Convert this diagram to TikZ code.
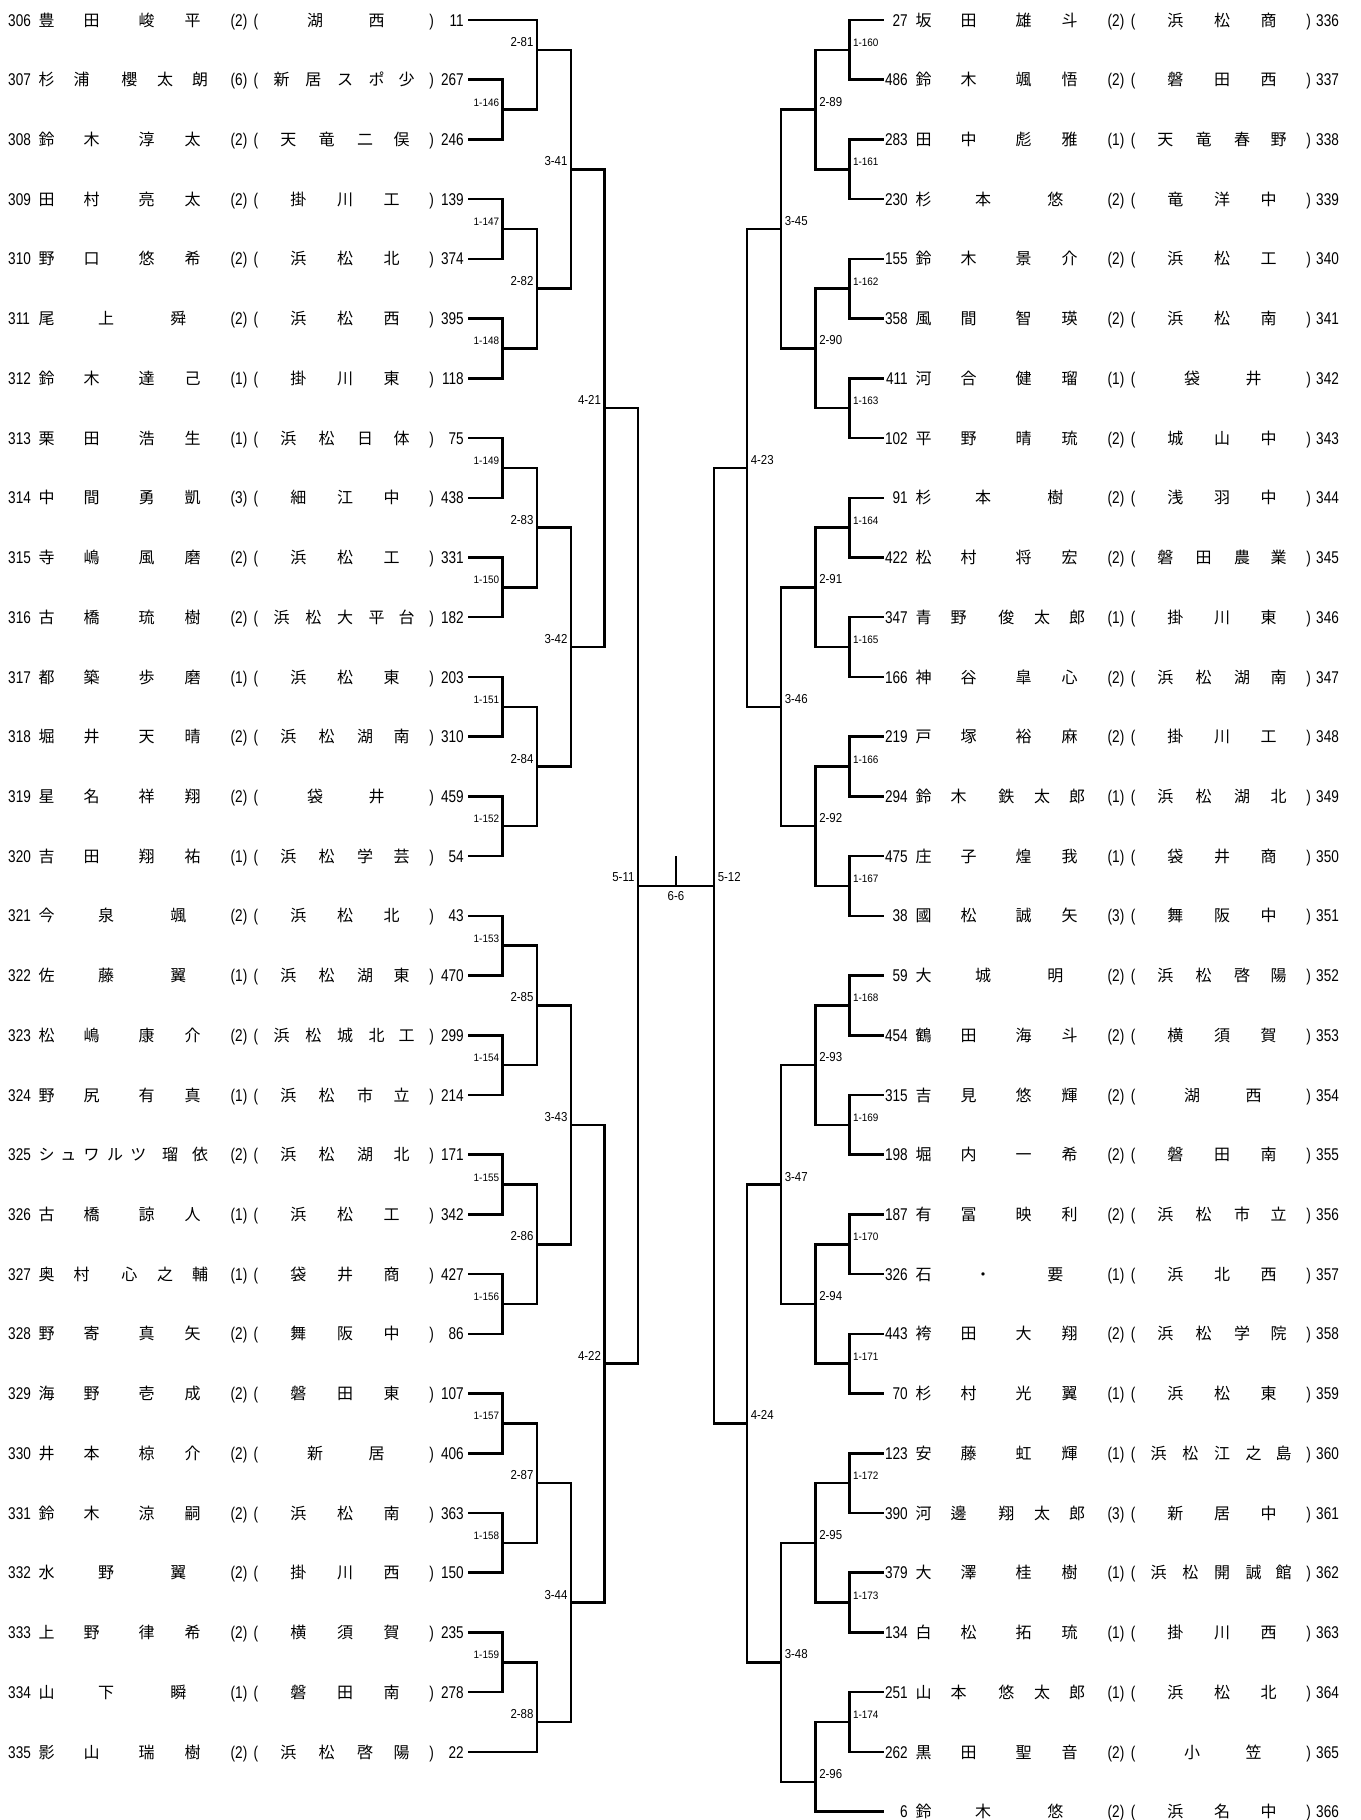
\documentclass[tikz,border=0pt]{standalone}
\usepackage{fontspec}
\usepackage{graphicx}
\setmainfont{Liberation Sans}
\newfontfamily\jpfont{Noto Sans CJK JP}
\newcount\tid
\newcommand\nd[1]{\scalebox{0.8}[1]{#1}}
\newcommand\nl[1]{\scalebox{0.88}[1]{#1}}
\newcommand\ns[1]{\scalebox{0.92}[1]{#1}}
\def\xo{0}\def\yb{0}
\newcommand\CJ[2]{\global\advance\tid by 1 \node[jp] (t\the\tid) at ({#1+\xo},\yb) {#2};}
\newcommand\NW[2]{\global\advance\tid by 1 \node[num,anchor=base west] (t\the\tid) at ({#1+\xo},\yb) {\nd{#2}};}
\newcommand\NE[2]{\global\advance\tid by 1 \node[num,anchor=base east] (t\the\tid) at ({#1+\xo},\yb) {\nd{#2}};}
\newcommand\NC[2]{\global\advance\tid by 1 \node[num,anchor=base] (t\the\tid) at ({#1+\xo},\yb) {\nd{#2}};}
\newcommand\PF[4]{\CJ{46.7}{#1}\CJ{91.7}{#2}\CJ{146.7}{#3}\CJ{192.7}{#4}}
\newcommand\PV[5]{\CJ{46.7}{#1}\CJ{81.7}{#2}\CJ{129.3}{#3}\CJ{165}{#4}\CJ{200}{#5}}
\newcommand\PT[3]{\CJ{46.7}{#1}\CJ{106}{#2}\CJ{178.3}{#3}}
\newcommand\SB[2]{\CJ{315}{#1}\CJ{376.7}{#2}}
\newcommand\SC[3]{\CJ{298.3}{#1}\CJ{345}{#2}\CJ{391.7}{#3}}
\newcommand\SD[4]{\CJ{288.3}{#1}\CJ{326.7}{#2}\CJ{365}{#3}\CJ{401.7}{#4}}
\newcommand\SE[5]{\CJ{281.7}{#1}\CJ{313.3}{#2}\CJ{345}{#3}\CJ{376.7}{#4}\CJ{406.7}{#5}}
\newcommand\GR[1]{\NC{239}{(#1)}\NC{256}{(}\NC{431.7}{)}}
\newcommand\LR[6]{\pgfmathsetmacro\yb{20+59.72*#1+6.1}\def\xo{0}\NW{8}{#2}#3\GR{#4}#5\NE{464}{#6}}
\newcommand\RR[6]{\pgfmathsetmacro\yb{20+59.72*#1+6.1}\def\xo{877}\NE{31}{#2}#3\GR{#4}#5\NW{439}{#6}}
\begin{document}
\begin{tikzpicture}[x=1pt,y=-1pt,
  jp/.style={font=\jpfont\fontsize{16}{16}\selectfont, inner sep=0pt, anchor=base},
  num/.style={font=\fontsize{17}{17}\selectfont, inner sep=0pt},
  lbl/.style={font=\fontsize{13}{13}\selectfont, inner sep=0pt},
  lbs/.style={font=\fontsize{10.8}{10.8}\selectfont, inner sep=0pt},
  br/.style={line width=2.5pt, line join=miter, line cap=butt}]
\useasboundingbox (0,0) rectangle (1360,1820);
% ---------- left rows
\LR{0}{306}{\PF{豊}{田}{峻}{平}}{2}{\SB{湖}{西}}{11}
\LR{1}{307}{\PV{杉}{浦}{櫻}{太}{朗}}{6}{\SE{新}{居}{ス}{ポ}{少}}{267}
\LR{2}{308}{\PF{鈴}{木}{淳}{太}}{2}{\SD{天}{竜}{二}{俣}}{246}
\LR{3}{309}{\PF{田}{村}{亮}{太}}{2}{\SC{掛}{川}{工}}{139}
\LR{4}{310}{\PF{野}{口}{悠}{希}}{2}{\SC{浜}{松}{北}}{374}
\LR{5}{311}{\PT{尾}{上}{舜}}{2}{\SC{浜}{松}{西}}{395}
\LR{6}{312}{\PF{鈴}{木}{達}{己}}{1}{\SC{掛}{川}{東}}{118}
\LR{7}{313}{\PF{栗}{田}{浩}{生}}{1}{\SD{浜}{松}{日}{体}}{75}
\LR{8}{314}{\PF{中}{間}{勇}{凱}}{3}{\SC{細}{江}{中}}{438}
\LR{9}{315}{\PF{寺}{嶋}{風}{磨}}{2}{\SC{浜}{松}{工}}{331}
\LR{10}{316}{\PF{古}{橋}{琉}{樹}}{2}{\SE{浜}{松}{大}{平}{台}}{182}
\LR{11}{317}{\PF{都}{築}{歩}{磨}}{1}{\SC{浜}{松}{東}}{203}
\LR{12}{318}{\PF{堀}{井}{天}{晴}}{2}{\SD{浜}{松}{湖}{南}}{310}
\LR{13}{319}{\PF{星}{名}{祥}{翔}}{2}{\SB{袋}{井}}{459}
\LR{14}{320}{\PF{吉}{田}{翔}{祐}}{1}{\SD{浜}{松}{学}{芸}}{54}
\LR{15}{321}{\PT{今}{泉}{颯}}{2}{\SC{浜}{松}{北}}{43}
\LR{16}{322}{\PT{佐}{藤}{翼}}{1}{\SD{浜}{松}{湖}{東}}{470}
\LR{17}{323}{\PF{松}{嶋}{康}{介}}{2}{\SE{浜}{松}{城}{北}{工}}{299}
\LR{18}{324}{\PF{野}{尻}{有}{真}}{1}{\SD{浜}{松}{市}{立}}{214}
\LR{19}{325}{\CJ{46.7}{シ}\CJ{68.3}{ュ}\CJ{91.7}{ワ}\CJ{115}{ル}\CJ{138.3}{ツ}\CJ{170}{瑠}\CJ{200}{依}}{2}{\SD{浜}{松}{湖}{北}}{171}
\LR{20}{326}{\PF{古}{橋}{諒}{人}}{1}{\SC{浜}{松}{工}}{342}
\LR{21}{327}{\PV{奥}{村}{心}{之}{輔}}{1}{\SC{袋}{井}{商}}{427}
\LR{22}{328}{\PF{野}{寄}{真}{矢}}{2}{\SC{舞}{阪}{中}}{86}
\LR{23}{329}{\PF{海}{野}{壱}{成}}{2}{\SC{磐}{田}{東}}{107}
\LR{24}{330}{\PF{井}{本}{椋}{介}}{2}{\SB{新}{居}}{406}
\LR{25}{331}{\PF{鈴}{木}{涼}{嗣}}{2}{\SC{浜}{松}{南}}{363}
\LR{26}{332}{\PT{水}{野}{翼}}{2}{\SC{掛}{川}{西}}{150}
\LR{27}{333}{\PF{上}{野}{律}{希}}{2}{\SC{横}{須}{賀}}{235}
\LR{28}{334}{\PT{山}{下}{瞬}}{1}{\SC{磐}{田}{南}}{278}
\LR{29}{335}{\PF{影}{山}{瑞}{樹}}{2}{\SD{浜}{松}{啓}{陽}}{22}
% ---------- right rows
\RR{0}{27}{\PF{坂}{田}{雄}{斗}}{2}{\SC{浜}{松}{商}}{336}
\RR{1}{486}{\PF{鈴}{木}{颯}{悟}}{2}{\SC{磐}{田}{西}}{337}
\RR{2}{283}{\PF{田}{中}{彪}{雅}}{1}{\SD{天}{竜}{春}{野}}{338}
\RR{3}{230}{\PT{杉}{本}{悠}}{2}{\SC{竜}{洋}{中}}{339}
\RR{4}{155}{\PF{鈴}{木}{景}{介}}{2}{\SC{浜}{松}{工}}{340}
\RR{5}{358}{\PF{風}{間}{智}{瑛}}{2}{\SC{浜}{松}{南}}{341}
\RR{6}{411}{\PF{河}{合}{健}{瑠}}{1}{\SB{袋}{井}}{342}
\RR{7}{102}{\PF{平}{野}{晴}{琉}}{2}{\SC{城}{山}{中}}{343}
\RR{8}{91}{\PT{杉}{本}{樹}}{2}{\SC{浅}{羽}{中}}{344}
\RR{9}{422}{\PF{松}{村}{将}{宏}}{2}{\SD{磐}{田}{農}{業}}{345}
\RR{10}{347}{\PV{青}{野}{俊}{太}{郎}}{1}{\SC{掛}{川}{東}}{346}
\RR{11}{166}{\PF{神}{谷}{皐}{心}}{2}{\SD{浜}{松}{湖}{南}}{347}
\RR{12}{219}{\PF{戸}{塚}{裕}{麻}}{2}{\SC{掛}{川}{工}}{348}
\RR{13}{294}{\PV{鈴}{木}{鉄}{太}{郎}}{1}{\SD{浜}{松}{湖}{北}}{349}
\RR{14}{475}{\PF{庄}{子}{煌}{我}}{1}{\SC{袋}{井}{商}}{350}
\RR{15}{38}{\PF{國}{松}{誠}{矢}}{3}{\SC{舞}{阪}{中}}{351}
\RR{16}{59}{\PT{大}{城}{明}}{2}{\SD{浜}{松}{啓}{陽}}{352}
\RR{17}{454}{\PF{鶴}{田}{海}{斗}}{2}{\SC{横}{須}{賀}}{353}
\RR{18}{315}{\PF{吉}{見}{悠}{輝}}{2}{\SB{湖}{西}}{354}
\RR{19}{198}{\PF{堀}{内}{一}{希}}{2}{\SC{磐}{田}{南}}{355}
\RR{20}{187}{\PF{有}{冨}{映}{利}}{2}{\SD{浜}{松}{市}{立}}{356}
\RR{21}{326}{\PT{石}{・}{要}}{1}{\SC{浜}{北}{西}}{357}
\RR{22}{443}{\PF{袴}{田}{大}{翔}}{2}{\SD{浜}{松}{学}{院}}{358}
\RR{23}{70}{\PF{杉}{村}{光}{翼}}{1}{\SC{浜}{松}{東}}{359}
\RR{24}{123}{\PF{安}{藤}{虹}{輝}}{1}{\SE{浜}{松}{江}{之}{島}}{360}
\RR{25}{390}{\PV{河}{邊}{翔}{太}{郎}}{3}{\SC{新}{居}{中}}{361}
\RR{26}{379}{\PF{大}{澤}{桂}{樹}}{1}{\SE{浜}{松}{開}{誠}{館}}{362}
\RR{27}{134}{\PF{白}{松}{拓}{琉}}{1}{\SC{掛}{川}{西}}{363}
\RR{28}{251}{\PV{山}{本}{悠}{太}{郎}}{1}{\SC{浜}{松}{北}}{364}
\RR{29}{262}{\PF{黒}{田}{聖}{音}}{2}{\SB{小}{笠}}{365}
\RR{30}{6}{\PT{鈴}{木}{悠}}{2}{\SC{浜}{名}{中}}{366}
% ---------- coordinates
\foreach \k in {0,...,29}{\pgfmathtruncatemacro\s{306+\k}\coordinate (p\s) at (468.3,{20+59.72*\k});}
\foreach \k in {0,...,30}{\pgfmathtruncatemacro\s{336+\k}\coordinate (q\s) at (883.5,{20+59.72*\k});}
\foreach \i in {1,...,14}{\pgfmathtruncatemacro\m{145+\i}\coordinate (m\m) at (502.7,{20+59.72*(2*\i-0.5)});}
\foreach \i in {1,...,15}{\pgfmathtruncatemacro\m{159+\i}\coordinate (m\m) at (849.3,{20+59.72*(2*\i-1.5)});}
\foreach \i in {1,...,8}{\pgfmathtruncatemacro\m{80+\i}\coordinate (m\m) at (537,{20+59.72*(4*\i-3.5)});}
\foreach \i in {1,...,8}{\pgfmathtruncatemacro\m{88+\i}\coordinate (m\m) at (815.5,{20+59.72*(4*\i-2.5)});}
\foreach \i in {1,...,4}{\pgfmathtruncatemacro\m{40+\i}\coordinate (m\m) at (571,{20+59.72*(8*\i-5.5)});}
\foreach \i in {1,...,4}{\pgfmathtruncatemacro\m{44+\i}\coordinate (m\m) at (781,{20+59.72*(8*\i-4.5)});}
\coordinate (m21) at (604.5,{20+59.72*6.5});
\coordinate (m22) at (604.5,{20+59.72*22.5});
\coordinate (m23) at (747,{20+59.72*7.5});
\coordinate (m24) at (747,{20+59.72*23.5});
\coordinate (m11) at (638,{20+59.72*14.5});
\coordinate (m12) at (714,{20+59.72*14.5});
\coordinate (c6) at (676,{20+59.72*14});
% ---------- bracket lines
\foreach \i in {1,...,14}{\pgfmathtruncatemacro\m{145+\i}\pgfmathtruncatemacro\a{305+2*\i}\pgfmathtruncatemacro\b{306+2*\i}
  \draw[br] (p\a) -| (m\m) |- (p\b);}
\foreach \i in {1,...,15}{\pgfmathtruncatemacro\m{159+\i}\pgfmathtruncatemacro\a{334+2*\i}\pgfmathtruncatemacro\b{335+2*\i}
  \draw[br] (q\a) -| (m\m) |- (q\b);}
\draw[br] (p306) -| (m81) |- (m146);
\foreach \i in {2,...,7}{\pgfmathtruncatemacro\m{80+\i}\pgfmathtruncatemacro\a{143+2*\i}\pgfmathtruncatemacro\b{144+2*\i}
  \draw[br] (m\a) -| (m\m) |- (m\b);}
\draw[br] (m159) -| (m88) |- (p335);
\foreach \i in {1,...,7}{\pgfmathtruncatemacro\m{88+\i}\pgfmathtruncatemacro\a{158+2*\i}\pgfmathtruncatemacro\b{159+2*\i}
  \draw[br] (m\a) -| (m\m) |- (m\b);}
\draw[br] (m174) -| (m96) |- (q366);
\foreach \i in {1,...,4}{\pgfmathtruncatemacro\m{40+\i}\pgfmathtruncatemacro\a{79+2*\i}\pgfmathtruncatemacro\b{80+2*\i}
  \draw[br] (m\a) -| (m\m) |- (m\b);}
\foreach \i in {1,...,4}{\pgfmathtruncatemacro\m{44+\i}\pgfmathtruncatemacro\a{87+2*\i}\pgfmathtruncatemacro\b{88+2*\i}
  \draw[br] (m\a) -| (m\m) |- (m\b);}
\draw[br] (m41) -| (m21) |- (m42);
\draw[br] (m43) -| (m22) |- (m44);
\draw[br] (m45) -| (m23) |- (m46);
\draw[br] (m47) -| (m24) |- (m48);
\draw[br] (m21) -| (m11) |- (m22);
\draw[br] (m23) -| (m12) |- (m24);
\draw[br] (m11) -- (m12);
\draw[br] (c6) -- (c6 |- m11);
% ---------- match labels
\foreach \i in {1,...,14}{\pgfmathtruncatemacro\m{145+\i}\node[lbs,anchor=base east] (l\m) at ([xshift=-3.4pt,yshift=3.5pt]m\m) {\ns{1-\m}};}
\foreach \i in {1,...,15}{\pgfmathtruncatemacro\m{159+\i}\node[lbs,anchor=base west] (l\m) at ([xshift=3.6pt,yshift=3.5pt]m\m) {\ns{1-\m}};}
\foreach \i in {1,...,8}{\pgfmathtruncatemacro\m{80+\i}\node[lbl,anchor=base east] (l\m) at ([xshift=-3.4pt,yshift=3.5pt]m\m) {\nl{2-\m}};}
\foreach \i in {1,...,8}{\pgfmathtruncatemacro\m{88+\i}\node[lbl,anchor=base west] (l\m) at ([xshift=3.6pt,yshift=3.5pt]m\m) {\nl{2-\m}};}
\foreach \i in {1,...,4}{\pgfmathtruncatemacro\m{40+\i}\node[lbl,anchor=base east] (l\m) at ([xshift=-3.4pt,yshift=3.5pt]m\m) {\nl{3-\m}};}
\foreach \i in {1,...,4}{\pgfmathtruncatemacro\m{44+\i}\node[lbl,anchor=base west] (l\m) at ([xshift=3.6pt,yshift=3.5pt]m\m) {\nl{3-\m}};}
\node[lbl,anchor=base east] (l21) at ([xshift=-3.4pt,yshift=3.5pt]m21) {\nl{4-21}};
\node[lbl,anchor=base east] (l22) at ([xshift=-3.4pt,yshift=3.5pt]m22) {\nl{4-22}};
\node[lbl,anchor=base west] (l23) at ([xshift=3.6pt,yshift=3.5pt]m23) {\nl{4-23}};
\node[lbl,anchor=base west] (l24) at ([xshift=3.6pt,yshift=3.5pt]m24) {\nl{4-24}};
\node[lbl,anchor=base east] (l11) at ([xshift=-3.4pt,yshift=4pt]m11) {\nl{5-11}};
\node[lbl,anchor=base west] (l12) at ([xshift=3.6pt,yshift=4pt]m12) {\nl{5-12}};
\node[lbl,anchor=base] (l66) at (676,900.7) {\nl{6-6}};
\end{tikzpicture}
\end{document}
